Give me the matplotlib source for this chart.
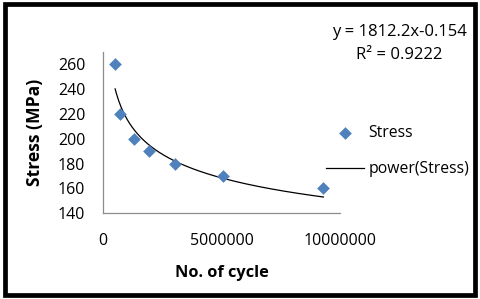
import numpy as np
import matplotlib
matplotlib.use("Agg")
import matplotlib.pyplot as plt
from matplotlib.patches import Rectangle

# Data
cycles = [500000, 700000, 1280000, 1950000, 3050000, 5050000, 9300000]
stress = [260, 220, 200, 190, 180, 170, 160]
fit_a = 1812.2
fit_b = -0.154
r2 = 0.9222
x_ticks = [0, 5000000, 10000000]
x_tick_labels = ["0", "5000000", "10000000"]
y_ticks = [140, 160, 180, 200, 220, 240, 260]

plt.rcParams['font.family'] = ['Open Sans', 'DejaVu Sans']

W, H = 480, 299
fig = plt.figure(figsize=(W / 100, H / 100), dpi=100)
ax = fig.add_axes([103.3 / W, 1 - 213.3 / H, (340 - 103.3) / W, (213.3 - 51.9) / H])

ax.scatter(cycles, stress, marker='D', s=42, color='#4F81BD', zorder=3,
           label='Stress', linewidths=0)
xs = np.linspace(min(cycles), max(cycles), 300)
ax.plot(xs, fit_a * xs ** fit_b, color='black', lw=0.9, label='power(Stress)', zorder=2)

ax.set_xlim(0, 10000000)
ax.set_ylim(140, 270)
ax.set_xticks(x_ticks)
ax.set_xticklabels(x_tick_labels)
ax.set_yticks(y_ticks)
for s in ['top', 'right']:
    ax.spines[s].set_visible(False)
for s in ['left', 'bottom']:
    ax.spines[s].set_color('#8C8C8C')
    ax.spines[s].set_linewidth(0.9)
ax.tick_params(length=0, labelsize=11.5, colors='black')
ax.tick_params(axis='y', pad=13)
ax.tick_params(axis='x', pad=14)

ax.set_xlabel('No. of cycle', fontsize=11.8, fontweight='bold', labelpad=12)
ax.set_ylabel('Stress (MPa)', fontsize=12.6, fontweight='bold', labelpad=10)

fig.text(399 / W, 1 - 32 / H, 'y = 1812.2x-0.154', ha='center', va='center', fontsize=12)
fig.text(399 / W, 1 - 55 / H, 'R² = 0.9222', ha='center', va='center', fontsize=12)

leg = ax.legend(loc='center left', bbox_to_anchor=(326 / W, 1 - 151 / H),
                bbox_transform=fig.transFigure, frameon=False, fontsize=11.3,
                handlelength=2.4, handletextpad=0.3, labelspacing=1.3,
                borderpad=0, borderaxespad=0, scatterpoints=1)

fig.patches.append(Rectangle((5 / W, 4.5 / H), (474.5 - 5) / W, (295.5 - 4.5) / H,
                             transform=fig.transFigure, fill=False,
                             edgecolor='black', linewidth=3.4))

fig.savefig('out.png', dpi=100)
